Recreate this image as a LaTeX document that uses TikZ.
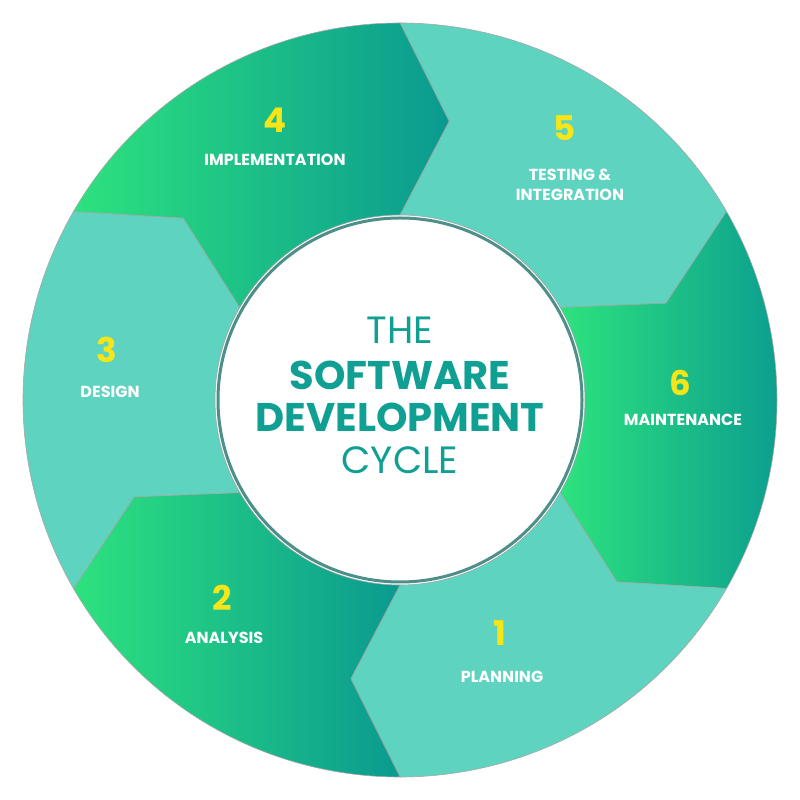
\documentclass[tikz,border=0pt]{standalone}
\usepackage{fontspec}
\setmainfont{Poppins}
\definecolor{light}{HTML}{5ED3C0}
\definecolor{gA}{HTML}{2DE27E}
\definecolor{gB}{HTML}{0A9A90}
\definecolor{numy}{HTML}{F6E519}
\definecolor{ctext}{HTML}{10A093}
\definecolor{ring}{HTML}{4E8F8A}
\begin{document}
\begin{tikzpicture}[x=1pt,y=1pt,
  seg/.style={draw=black!35,line width=0.6pt},
  lseg/.style={seg,fill=light},
  gseg/.style={seg,left color=gA,right color=gB},
  num/.style={text=numy,font=\bfseries\fontsize{34}{34}\selectfont},
  lab/.style={text=white,font=\bfseries\fontsize{16}{20}\selectfont,align=center}]
\useasboundingbox (0,0) rectangle (800,800);
\newcommand\segpath[2]{% start angle, end angle
  (#1:377pt) arc[start angle=#1,end angle=#2,radius=377pt]
  -- ({#2-10}:283pt) -- (#2:185pt)
  arc[start angle=#2,end angle=#1,radius=185pt]
  -- ({#1-10}:283pt) -- cycle}
\begin{scope}[shift={(400,400)}]
\path[lseg] \segpath{90}{30};
\path[gseg] \segpath{30}{-30};
\path[lseg] \segpath{-30}{-90};
\path[gseg] \segpath{-90}{-150};
\path[lseg] \segpath{-150}{-210};
\path[gseg] \segpath{150}{90};
\node[circle,fill=white,draw=ring,line width=3pt,minimum size=364pt] (c) at (0,0) {};
\end{scope}
\node[num] (n4) at (275,680) {4};
\node[lab] (l4) at (275,640) {IMPLEMENTATION};
\node[num] (n5) at (565,672) {5};
\node[lab] (l5) at (570,615) {TESTING \&\\INTEGRATION};
\node[num] (n6) at (680,417) {6};
\node[lab] (l6) at (683,380) {MAINTENANCE};
\node[num] (n1) at (500,167) {1};
\node[lab] (l1) at (502,123) {PLANNING};
\node[num] (n2) at (222,202) {2};
\node[lab] (l2) at (224,162) {ANALYSIS};
\node[num] (n3) at (107,450) {3};
\node[lab] (l3) at (110,408) {DESIGN};
\node[text=ctext,font=\fontsize{38}{38}\selectfont] (t1) at (400,470) {THE};
\node[text=ctext,font=\bfseries\fontsize{40}{40}\selectfont] (t2) at (400,425) {SOFTWARE};
\node[text=ctext,font=\bfseries\fontsize{40}{40}\selectfont] (t3) at (400,383) {DEVELOPMENT};
\node[text=ctext,font=\fontsize{38}{38}\selectfont] (t4) at (400,340) {CYCLE};
\end{tikzpicture}
\end{document}
